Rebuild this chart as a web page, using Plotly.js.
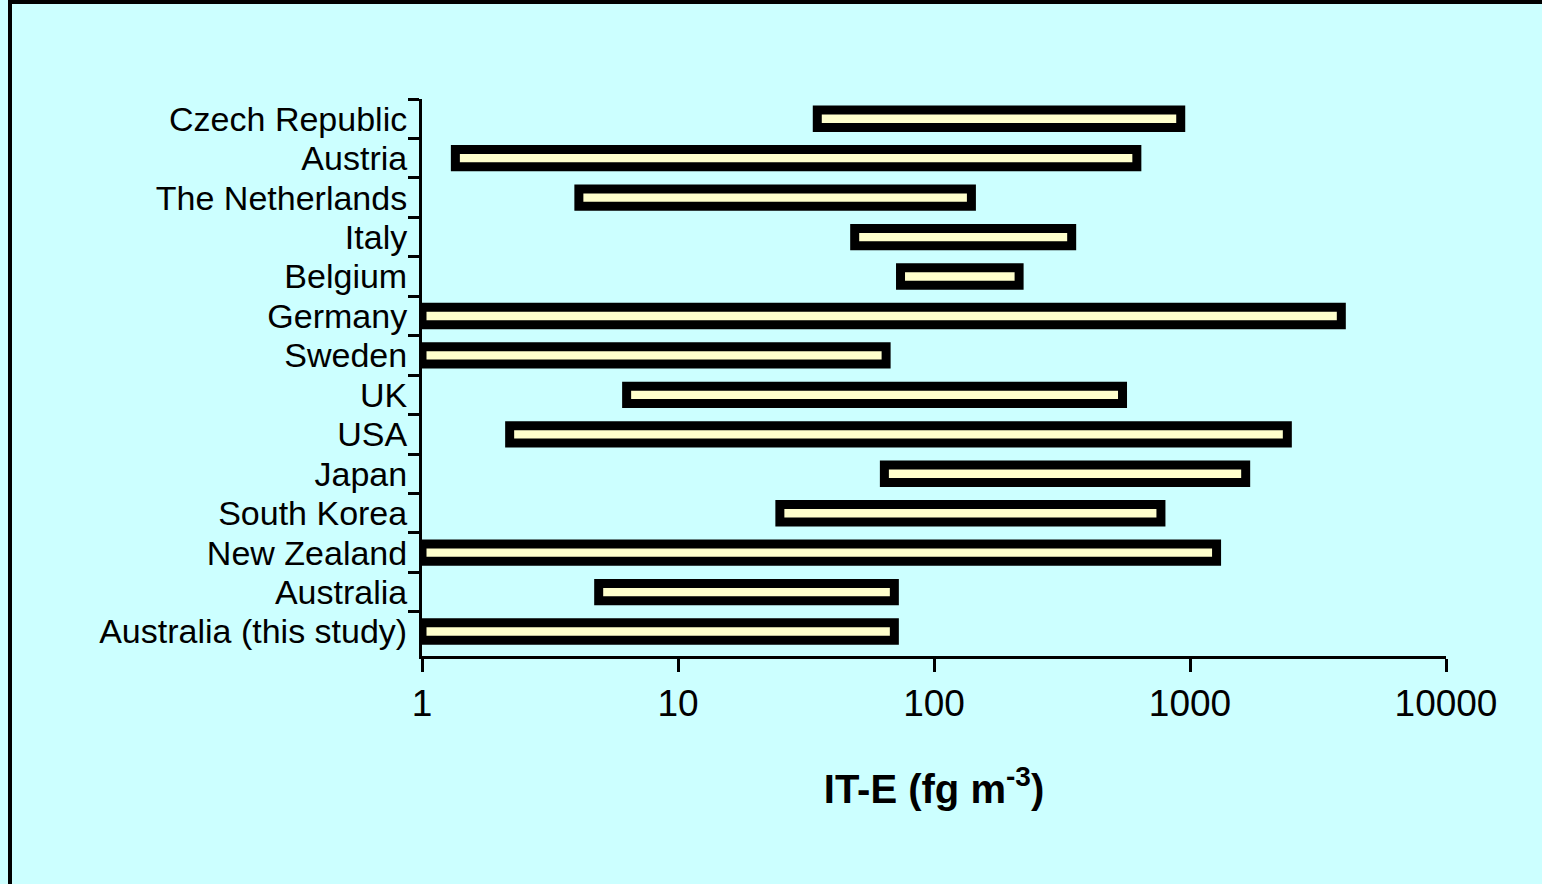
<!DOCTYPE html>
<html>
<head>
<meta charset="utf-8">
<script src="https://cdn.plot.ly/plotly-3.0.1.min.js"></script>
<style>
  html, body { margin: 0; padding: 0; background: #CCFFFF; }
  #wrap { position: relative; width: 1542px; height: 884px; overflow: hidden; }
  #chart { position: absolute; left: 0; top: 0; width: 1542px; height: 884px; }
  #frame { position: absolute; left: 8px; top: 0; width: 1534px; height: 884px;
           border-left: 4px solid #000; border-top: 4px solid #000; box-sizing: border-box;
           pointer-events: none; }
</style>
</head>
<body>
<div id="wrap">
  <div id="chart"></div>
  <div id="frame"></div>
</div>
<script>
// Countries (top to bottom)
const countries = [
  "Czech Republic", "Austria", "The Netherlands", "Italy", "Belgium", "Germany",
  "Sweden", "UK", "USA", "Japan", "South Korea", "New Zealand", "Australia",
  "Australia (this study)"
];
// Range of IT-E concentrations (fg m-3): low and high ends
const lowValues  = [35, 1.35, 4.1, 49, 74, 1, 1, 6.3, 2.2, 64, 25, 1, 4.9, 1];
const highValues = [920, 620, 140, 345, 215, 3900, 65, 545, 2400, 1650, 770, 1270, 70, 70];
// X tick labels
const xTickVals = [1, 10, 100, 1000, 10000];
const xTickText = ["1", "10", "100", "1000", "10000"];
const xTitle = "<b>IT-E (fg m<sup>-3</sup>)</b>";

const lengths = highValues.map((h, i) => h - lowValues[i]);

const trace = {
  type: "bar",
  orientation: "h",
  y: countries,
  x: lengths,
  base: lowValues,
  width: 0.44,
  marker: { color: "#FFFFCC", line: { color: "#000000", width: 9 } },
  hoverinfo: "y"
};

const font = "Liberation Sans, Arial, Helvetica, sans-serif";

const layout = {
  width: 1542,
  height: 884,
  margin: { l: 422, r: 96, t: 99, b: 228 },
  paper_bgcolor: "#CCFFFF",
  plot_bgcolor: "#CCFFFF",
  showlegend: false,
  font: { family: font, color: "#000" },
  xaxis: {
    type: "log",
    range: [0, 4],
    tickvals: xTickVals,
    ticktext: xTickText,
    ticks: "outside",
    ticklen: 13,
    tickwidth: 3,
    tickcolor: "#000",
    showline: true,
    linecolor: "#000",
    linewidth: 3,
    showgrid: false,
    zeroline: false,
    tickfont: { family: font, size: 37, color: "#000" },
    title: { text: xTitle, font: { family: font, size: 40, color: "#000" }, standoff: 52 }
  },
  yaxis: {
    type: "category",
    categoryorder: "array",
    categoryarray: countries,
    range: [13.62, -0.5],
    tickmode: "linear",
    tick0: 0,
    dtick: 1,
    tickson: "boundaries",
    ticks: "outside",
    ticklen: 11,
    tickwidth: 3,
    tickcolor: "#000",
    showline: true,
    linecolor: "#000",
    linewidth: 3,
    showgrid: false,
    zeroline: false,
    tickfont: { family: font, size: 34, color: "#000" },
    ticklabelstandoff: 5
  }
};

Plotly.newPlot("chart", [trace], layout, { staticPlot: true, displayModeBar: false });
</script>
</body>
</html>
